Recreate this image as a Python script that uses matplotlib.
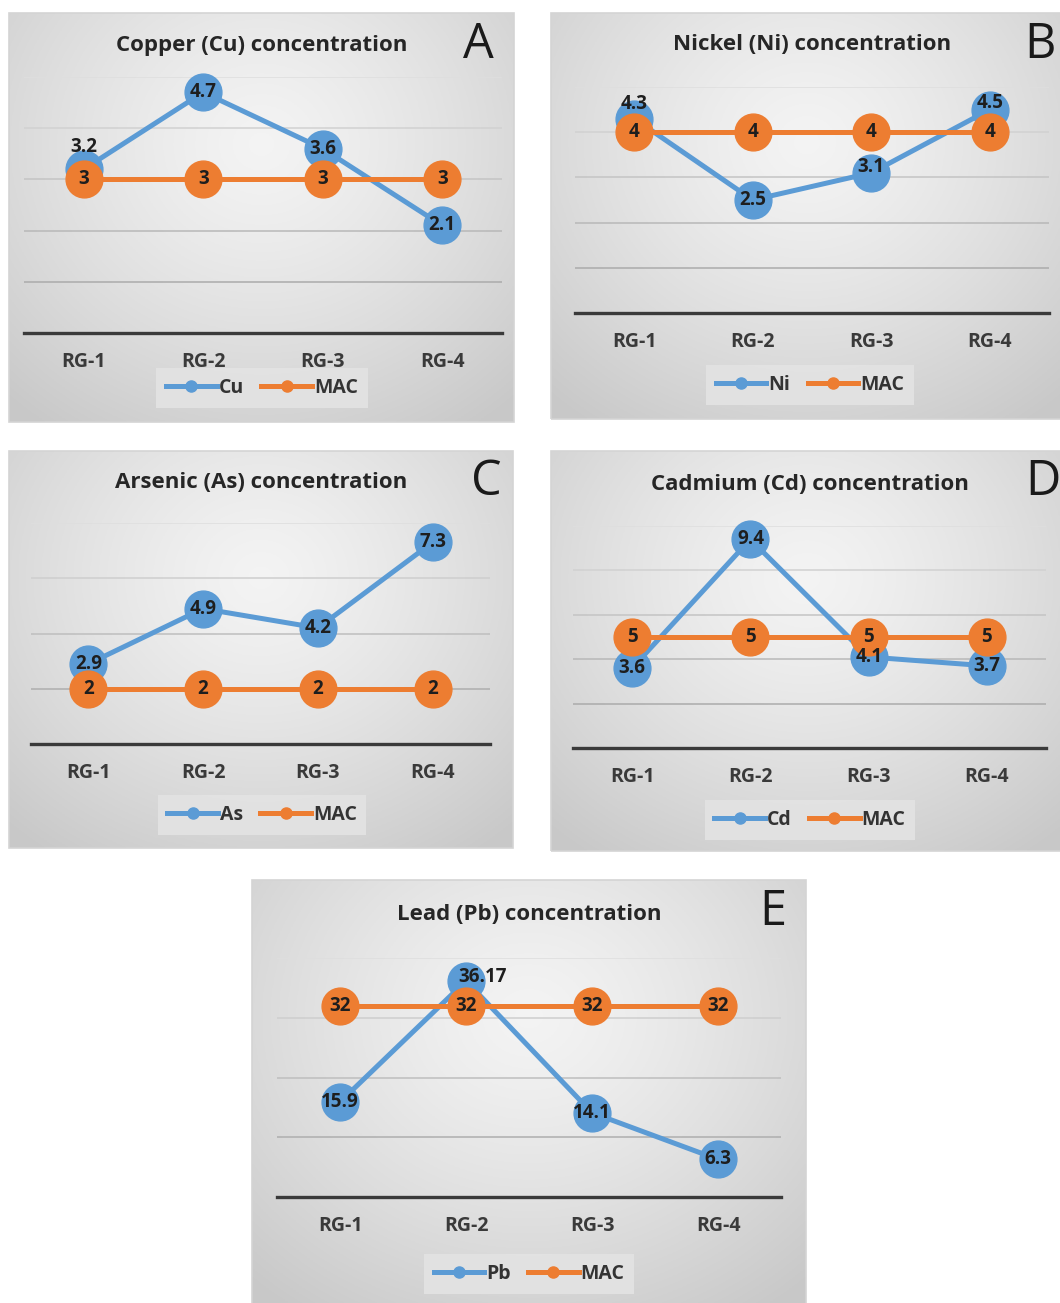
import numpy as np
import matplotlib
matplotlib.use("Agg")
import matplotlib.pyplot as plt
from matplotlib.lines import Line2D
from matplotlib.patches import Rectangle

plt.rcParams['font.family'] = ['Open Sans', 'DejaVu Sans']

# ---------------- data ----------------
categories = ['RG-1', 'RG-2', 'RG-3', 'RG-4']
cu = [3.2, 4.7, 3.6, 2.1]
mac_cu = [3, 3, 3, 3]
ni = [4.3, 2.5, 3.1, 4.5]
mac_ni = [4, 4, 4, 4]
arsenic = [2.9, 4.9, 4.2, 7.3]
mac_as = [2, 2, 2, 2]
cd = [3.6, 9.4, 4.1, 3.7]
mac_cd = [5, 5, 5, 5]
pb = [15.9, 36.17, 14.1, 6.3]
mac_pb = [32, 32, 32, 32]

W, H = 1060, 1303
BLUE = '#5B9BD5'
ORANGE = '#ED7D31'
TXT = '#1e1e1e'

fig = plt.figure(figsize=(W / 100, H / 100), dpi=100)
fig.patch.set_facecolor('white')


def fax(x0, y0, x1, y1):
    return [x0 / W, 1 - y1 / H, (x1 - x0) / W, (y1 - y0) / H]


def gradient_bg(rect):
    x0, y0, x1, y1 = rect
    bg = fig.add_axes(fax(x0, y0, x1, y1), zorder=0)
    ny, nx = 200, 200
    yy, xx = np.mgrid[0:1:ny * 1j, 0:1:nx * 1j]
    r = np.sqrt(((xx - 0.5) / 0.75) ** 2 + ((yy - 0.32) / 0.85) ** 2)
    r = np.clip(r, 0, 1)
    v = 0.955 - 0.17 * r ** 1.3
    img = np.dstack([v, v, v])
    bg.imshow(img, extent=[0, 1, 0, 1], aspect='auto', origin='upper')
    bg.set_xlim(0, 1)
    bg.set_ylim(0, 1)
    bg.axis('off')
    bg.add_patch(Rectangle((0, 0), 1, 1, transform=bg.transAxes, fill=False,
                           edgecolor='#d4d4d4', lw=1.2, clip_on=False))
    return bg


panels = [
    dict(vals=cu, mac=mac_cu, name='Cu', title='Copper (Cu) concentration', letter='A',
         panel=(9, 13, 514, 422), plot=(24, 77, 502, 333), ymax=5, ystep=1,
         title_xy=(262, 45), letter_xy=(478, 45), legend_xy=(262, 388),
         offsets={0: (0, 22)}),
    dict(vals=ni, mac=mac_ni, name='Ni', title='Nickel (Ni) concentration', letter='B',
         panel=(551, 13, 1062, 419), plot=(575, 87, 1049, 313), ymax=5, ystep=1,
         title_xy=(812, 45), letter_xy=(1040, 45), legend_xy=(810, 385),
         offsets={0: (0, 15), 3: (0, 7), 2: (0, 6)}),
    dict(vals=arsenic, mac=mac_as, name='As', title='Arsenic (As) concentration', letter='C',
         panel=(9, 451, 513, 848), plot=(31, 523, 490, 744), ymax=8, ystep=2,
         title_xy=(261, 482), letter_xy=(486, 482), legend_xy=(262, 815),
         offsets={}),
    dict(vals=cd, mac=mac_cd, name='Cd', title='Cadmium (Cd) concentration', letter='D',
         panel=(551, 451, 1062, 851), plot=(573, 526, 1046, 748), ymax=10, ystep=2,
         title_xy=(810, 484), letter_xy=(1043, 482), legend_xy=(810, 820),
         offsets={}),
    dict(vals=pb, mac=mac_pb, name='Pb', title='Lead (Pb) concentration', letter='E',
         panel=(252, 880, 806, 1305), plot=(277, 958, 781, 1197), ymax=40, ystep=10,
         title_xy=(529, 914), letter_xy=(773, 912), legend_xy=(529, 1274),
         offsets={1: (17, 4)}),
]

MS = 26.5
LBL = 13.5
for p in panels:
    gradient_bg(p['panel'])
    x0, y0, x1, y1 = p['plot']
    ax = fig.add_axes(fax(x0, y0, x1, y1), zorder=2)
    ax.patch.set_alpha(0)
    x = np.arange(len(categories))
    ax.set_xlim(-0.5, len(categories) - 0.5)
    ax.set_ylim(0, p['ymax'])
    ticks = np.arange(0, p['ymax'] + p['ystep'] / 2, p['ystep'])
    ax.set_yticks(ticks)
    ax.set_xticks(x)
    ax.set_xticklabels(categories, fontsize=14, fontweight='bold', color='#3a3a3a')
    ax.tick_params(axis='x', length=0, pad=14)
    ax.tick_params(axis='y', length=0, labelleft=False)
    for s in ['top', 'right', 'left']:
        ax.spines[s].set_visible(False)
    ax.spines['bottom'].set_color('#3a3a3a')
    ax.spines['bottom'].set_linewidth(2.4)
    # gridlines, lighter towards the top
    n = len(ticks)
    for i, t in enumerate(ticks[1:], start=1):
        frac = i / (n - 1)
        g = 0.62 + 0.25 * frac
        ax.axhline(t, color=(g, g, g), lw=1.1, zorder=1)

    ax.plot(x, p['vals'], color=BLUE, lw=3.6, marker='o', ms=MS,
            markerfacecolor=BLUE, markeredgecolor=BLUE, zorder=3, clip_on=False)
    ax.plot(x, p['mac'], color=ORANGE, lw=3.6, marker='o', ms=MS,
            markerfacecolor=ORANGE, markeredgecolor=ORANGE, zorder=4, clip_on=False)

    for i, v in enumerate(p['vals']):
        dx, dy = p['offsets'].get(i, (0, 0))
        ax.annotate(f"{v:g}", (x[i], v), xytext=(dx * 0.72, dy * 0.72),
                    textcoords='offset points', ha='center', va='center',
                    fontsize=LBL, fontweight='bold', color=TXT, zorder=6,
                    annotation_clip=False)
    for i, v in enumerate(p['mac']):
        ax.annotate(f"{v:g}", (x[i], v), ha='center', va='center',
                    fontsize=LBL, fontweight='bold', color=TXT, zorder=6,
                    annotation_clip=False)

    tx, ty = p['title_xy']
    fig.text(tx / W, 1 - ty / H, p['title'], ha='center', va='center',
             fontsize=16, fontweight='bold', color='#262626', zorder=5)
    lx, ly = p['letter_xy']
    fig.text(lx / W, 1 - ly / H, p['letter'], ha='center', va='center',
             fontsize=35, color='#1a1a1a', zorder=5)

    handles = [Line2D([], [], color=BLUE, lw=3.6, marker='o', ms=8),
               Line2D([], [], color=ORANGE, lw=3.6, marker='o', ms=8)]
    gx, gy = p['legend_xy']
    leg = fig.legend(handles, [p['name'], 'MAC'], loc='center',
                     bbox_to_anchor=(gx / W, 1 - gy / H), ncol=2, frameon=True,
                     prop=dict(size=14, weight='bold'), handlelength=2.6,
                     handletextpad=0.1, columnspacing=0.9, borderpad=0.5,
                     fancybox=False)
    leg.get_frame().set_facecolor('#e3e3e3')
    leg.get_frame().set_edgecolor('none')
    leg.get_frame().set_alpha(0.9)
    for t in leg.get_texts():
        t.set_color('#333333')
    leg.set_zorder(6)

fig.savefig('out.png', dpi=100)
